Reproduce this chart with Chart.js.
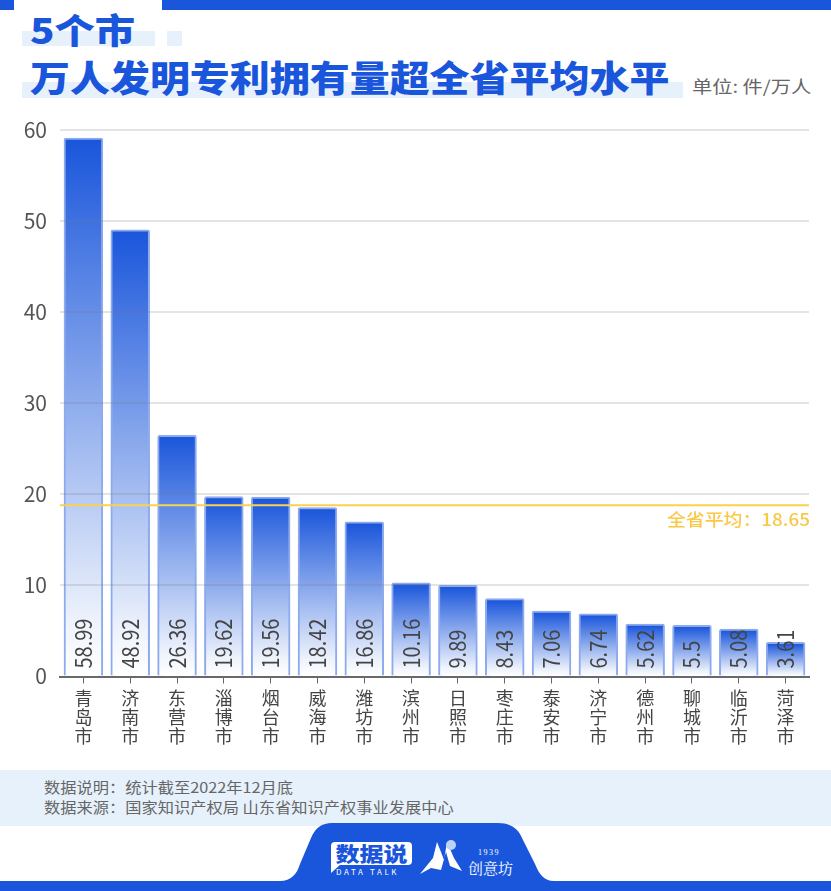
<!DOCTYPE html>
<html lang="zh"><head><meta charset="utf-8">
<script src="https://cdn.jsdelivr.net/npm/chart.js@4"></script>
<style>
html,body{margin:0;padding:0;background:#fff;overflow:hidden}
body{width:831px;height:891px;position:relative;font-family:"Noto Sans CJK SC","Noto Sans",sans-serif}
.a{position:absolute}
canvas{position:absolute;left:0;top:0}
.t{color:#1a56db;font-weight:900;white-space:nowrap;line-height:1;transform-origin:left top;transform:scaleX(1.11)}
.h{background:#e6f1fc}
.f{left:44px;font-size:14.5px;color:#666;white-space:nowrap;line-height:20px;transform-origin:left top;transform:scaleX(1.12)}
</style></head><body>
<div class="a" style="left:0;top:0;width:14px;height:10px;background:#1a56db"></div>
<div class="a" style="left:162px;top:0;width:669px;height:10px;background:#1a56db"></div>
<div class="a h" style="left:22px;top:31px;width:133px;height:15px"></div>
<div class="a h" style="left:167px;top:31px;width:15px;height:15px"></div>
<div class="a h" style="left:22px;top:82px;width:661px;height:16px"></div>
<div class="a t" style="left:30px;top:11px;font-size:35px;transform:scaleX(1.15)">5个市</div>
<div class="a t" style="left:30px;top:58px;font-size:36px">万人发明专利拥有量超全省平均水平</div>
<div class="a" style="left:692px;top:74px;font-size:17px;color:#666;white-space:nowrap;line-height:24px;transform-origin:left top;transform:scaleX(1.19)">单位: 件/万人</div>
<div class="a h" style="left:0;top:770px;width:831px;height:56px"></div>
<div class="a f" style="top:777px">数据说明：统计截至2022年12月底</div>
<div class="a f" style="top:797px">数据来源：国家知识产权局 山东省知识产权事业发展中心</div>
<svg class="a" style="left:0;top:815px" width="831" height="76" viewBox="0 815 831 76">
<path d="M0 881H280C291 881 297 874 300 864L311 838C315 828 322 823 332 823H498C510 823 518 828 522 838L535 864C539 874 544 881 554 881H831V891H0Z" fill="#1a56db"/>
<rect x="331" y="842" width="81" height="23" rx="4" fill="#fff"/>
<path d="M331 860V873L341 864Z" fill="#fff"/>
<path d="M420 874L433 858L435 850L437 842L441 852L444 860L447 842L454 858L462 871L450 866L446 852L441 870L431 868Z" fill="#fff"/>
<circle cx="451" cy="845" r="5" fill="#bcd3f7"/>
</svg>
<div class="a" style="left:331px;top:841px;width:81px;text-align:center;font-size:20px;font-weight:900;color:#1a56db;line-height:25px;white-space:nowrap;transform:scaleX(1.2)">数据说</div>
<div class="a" style="left:336px;top:866px;font-size:8px;letter-spacing:2.6px;color:#fff;line-height:11px;white-space:nowrap">DATA TALK</div>
<div class="a" style="left:478px;top:848px;font-size:8px;letter-spacing:1.5px;color:#fff;line-height:10px;font-family:'Liberation Serif'">1939</div>
<div class="a" style="left:468px;top:858px;font-size:15px;color:#fff;line-height:20px;white-space:nowrap;font-family:'Noto Serif CJK SC','Noto Sans CJK SC'">创意坊</div>
<canvas id="c" width="831" height="891"></canvas>
<script>
const categories = ['青岛市','济南市','东营市','淄博市','烟台市','威海市','潍坊市','滨州市','日照市','枣庄市','泰安市','济宁市','德州市','聊城市','临沂市','菏泽市'];
const values = [58.99,48.92,26.36,19.62,19.56,18.42,16.86,10.16,9.89,8.43,7.06,6.74,5.62,5.5,5.08,3.61];
const average = 18.65;
const averageLabel = '全省平均：18.65';
const yTicks = [0,10,20,30,40,50,60];
const FONT = '"Noto Sans CJK SC","Noto Sans",sans-serif';

const extras = {
  id:'extras',
  afterDatasetsDraw(chart){
    const {ctx,chartArea:a,scales:{y}} = chart;
    const meta = chart.getDatasetMeta(0);
    ctx.save();
    ctx.fillStyle = '#444';
    ctx.font = '20px '+FONT;
    ctx.textAlign = 'left';
    ctx.textBaseline = 'middle';
    meta.data.forEach((bar,i)=>{
      ctx.save();
      ctx.translate(bar.x, a.bottom - 8);
      ctx.rotate(-Math.PI/2);
      ctx.scale(1,1.12);
      ctx.fillText(String(values[i]),0,0);
      ctx.restore();
    });
    const py = y.getPixelForValue(average) - 1.5;
    ctx.strokeStyle = '#f9d24f';
    ctx.lineWidth = 2;
    ctx.beginPath();ctx.moveTo(a.left,py);ctx.lineTo(a.right,py);ctx.stroke();
    ctx.fillStyle = '#f9c846';
    ctx.font = '500 17px '+FONT;
    ctx.textAlign = 'right';
    ctx.translate(a.right+1,py+14.5);
    ctx.scale(1.11,1);
    ctx.fillText(averageLabel,0,0);
    ctx.restore();
  }
};

new Chart(document.getElementById('c'),{
  type:'bar',
  plugins:[extras],
  data:{
    labels:categories.map(s=>Array.from(s)),
    datasets:[{
      data:values,
      barThickness:36.5,
      inflateAmount:1.5,
      borderWidth:2,
      borderColor:'rgba(26,86,219,0.5)',
      borderRadius:{topLeft:2,topRight:2},
      borderSkipped:'bottom',
      backgroundColor(c){
        const s = c.chart.scales.y;
        const top = s && typeof c.raw==='number' ? s.getPixelForValue(c.raw) : NaN;
        const base = s ? s.getPixelForValue(0) : NaN;
        if(!isFinite(top) || !isFinite(base)) return '#1a56db';
        const g = c.chart.ctx.createLinearGradient(0,top,0,base);
        g.addColorStop(0,'#1a56db');
        g.addColorStop(0.9,'#eef3fc');
        g.addColorStop(1,'#ffffff');
        return g;
      }
    }]
  },
  options:{
    responsive:false,
    animation:false,
    devicePixelRatio:1,
    layout:{padding:{left:0,right:22,top:130,bottom:0}},
    plugins:{legend:{display:false},tooltip:{enabled:false},title:{display:false}},
    scales:{
      x:{
        afterFit(s){s.height=214.5;},
        grid:{offset:false,drawOnChartArea:false,drawTicks:true,tickLength:7,tickColor:'#666',tickWidth:1},
        border:{display:true,color:'#666',width:2},
        ticks:{font:{size:18,family:FONT,lineHeight:1.06},color:'#444',maxRotation:0,minRotation:0,autoSkip:false,padding:5}
      },
      y:{
        min:0,max:60,
        afterFit(s){s.width=60;},
        afterBuildTicks(s){s.ticks=yTicks.map(v=>({value:v}));},
        grid:{color:'rgba(120,120,120,0.2)',lineWidth:2,drawTicks:false,z:1},
        border:{display:false},
        ticks:{font:{size:21,family:FONT},color:'#555',padding:13}
      }
    }
  }
});
</script>
</body></html>
